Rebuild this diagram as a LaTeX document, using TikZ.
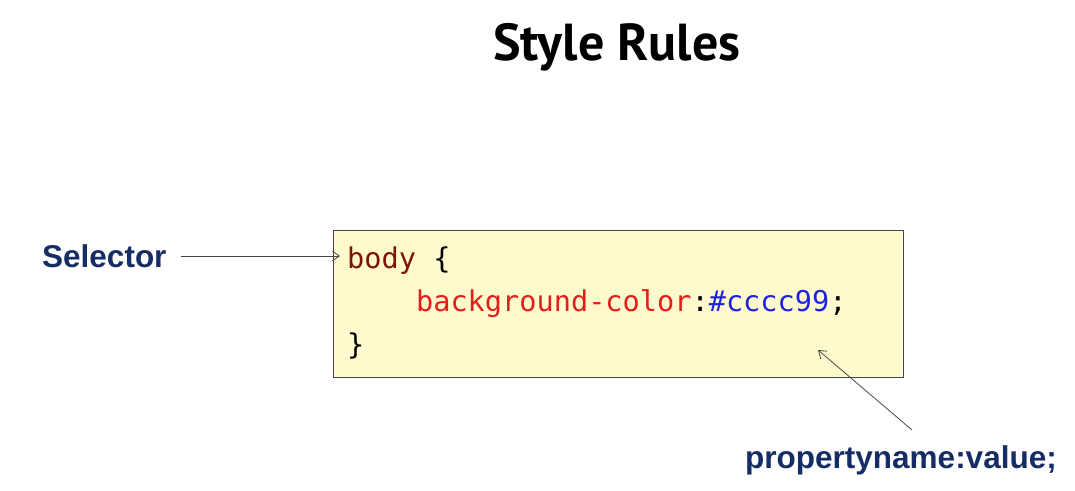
\documentclass[tikz,border=0pt]{standalone}
\usepackage{fontspec}
\setmainfont{Liberation Sans}
\newfontfamily\titlefont{PT Sans}
\newfontfamily\codefont{DejaVu Sans Mono}
\usetikzlibrary{arrows.meta}
\definecolor{navy}{RGB}{22,44,100}
\definecolor{boxfill}{RGB}{255,250,206}
\definecolor{boxline}{RGB}{70,70,70}
\definecolor{kw}{RGB}{125,20,10}
\definecolor{prop}{RGB}{230,30,25}
\definecolor{val}{RGB}{30,35,225}
\tikzset{
  label/.style={font=\fontsize{31.5}{31.5}\selectfont\bfseries, text=navy, inner sep=0pt},
  code/.style={font=\codefont\fontsize{28.6}{28.6}\selectfont, inner sep=0pt, anchor=base west},
  pointer/.style={draw=boxline, line width=0.8pt, -{Straight Barb[length=7pt,width=10pt,line width=0.8pt]}},
}
\begin{document}
\begin{tikzpicture}[x=1pt,y=-1pt]
\useasboundingbox (0,0) rectangle (1075,490);
\node[font=\titlefont\fontsize{52}{52}\selectfont\bfseries, anchor=base, inner sep=0pt] (title) at (617,60) {Style Rules};
\node[draw=boxline, fill=boxfill, line width=0.9pt, minimum width=570pt, minimum height=147pt, anchor=north west, inner sep=0pt] (box) at (333,230) {};
\node[code] (l1) at (347,268) {\textcolor{kw}{body} \{};
\node[code] (l2) at (347,311) {\hphantom{xxxx}\textcolor{prop}{background-color}:\textcolor{val}{\#cccc99};};
\node[code] (l3) at (347,354) {\}};
\node[label, anchor=west] (sel) at (42,256) {Selector};
\node[label, anchor=base west] (pv) at (745,468) {propertyname:value;};
\coordinate (selend) at (340,256);
\coordinate (pvstart) at (912,430);
\coordinate (pvend) at (818,350);
\draw[pointer] (sel.east) ++(14,0) -- (selend);
\draw[pointer] (pvstart) -- (pvend);
\end{tikzpicture}
\end{document}
